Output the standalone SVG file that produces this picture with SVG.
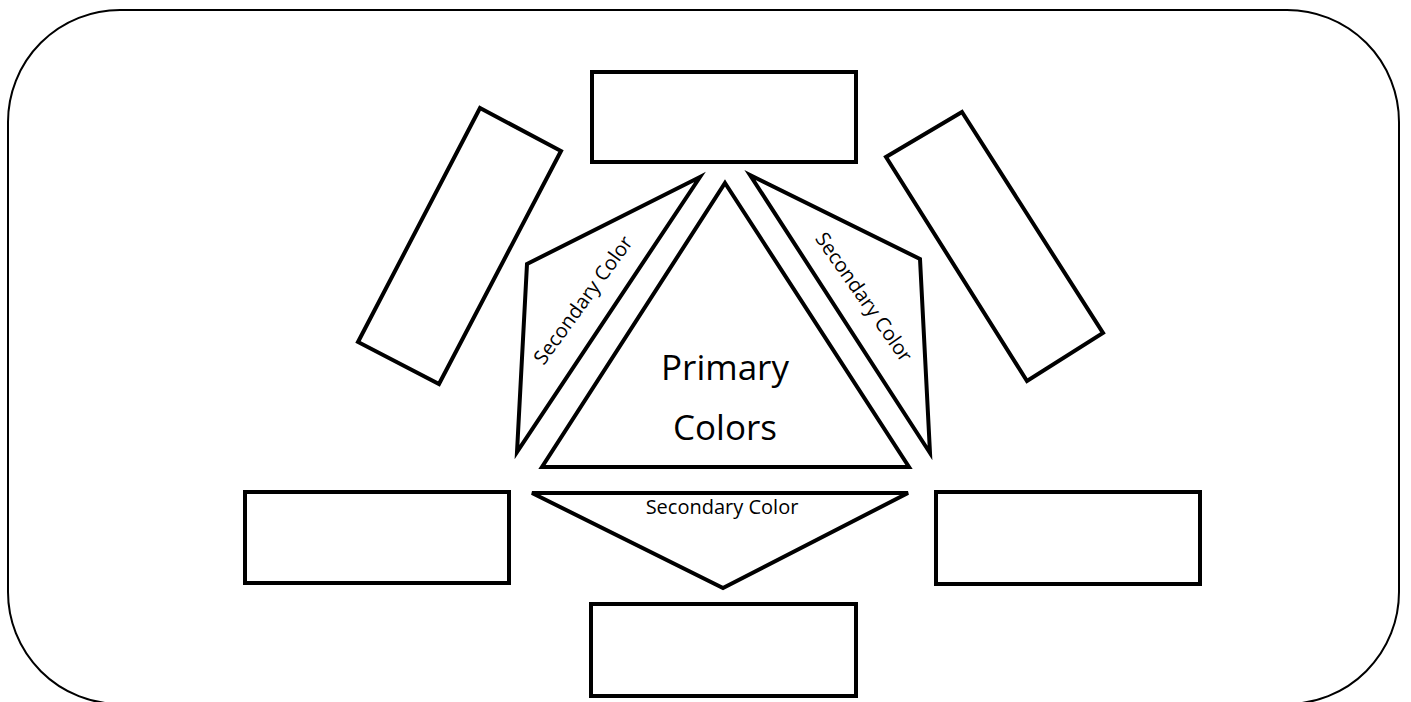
<svg xmlns="http://www.w3.org/2000/svg" width="1411" height="702" viewBox="0 0 1411 702">
<style>
.box{fill:#fff;stroke:#000;stroke-width:4;stroke-linejoin:miter}
.frame{fill:none;stroke:#000;stroke-width:2}
.sec{font-family:"Open Sans","Liberation Sans",sans-serif;font-size:20px;fill:#000;text-anchor:middle}
.pri{font-family:"Open Sans","Liberation Sans",sans-serif;font-size:35px;fill:#000;text-anchor:middle}
</style>
<rect width="1411" height="702" fill="#fff"/>
<rect id="frame" class="frame" x="8" y="10" width="1391" height="694" rx="112" ry="112"/>
<g id="box-top"><rect class="box" x="592" y="72" width="264" height="90"/></g>
<g id="box-upper-left"><polygon class="box" points="480,108 561,151 439,384 358,342"/></g>
<g id="box-upper-right"><polygon class="box" points="962,112 1103,333 1027,381 886,157"/></g>
<g id="box-lower-left"><rect class="box" x="245" y="492" width="264" height="91"/></g>
<g id="box-lower-right"><rect class="box" x="936" y="492" width="264" height="92"/></g>
<g id="box-bottom"><rect class="box" x="591" y="604" width="265" height="92"/></g>
<g id="primary">
<polygon class="box" points="725,183 909,467 542,467"/>
<text class="pri" x="725" y="380">Primary</text>
<text class="pri" x="725" y="440">Colors</text>
</g>
<g id="secondary-left">
<polygon class="box" points="700,177 527,264 517,452"/>
<text class="sec" transform="translate(583,300) rotate(-54)" x="0" y="7">Secondary Color</text>
</g>
<g id="secondary-right">
<polygon class="box" points="750,175 920,259 930,453"/>
<text class="sec" transform="translate(864,297) rotate(55)" x="0" y="7">Secondary Color</text>
</g>
<g id="secondary-bottom">
<polygon class="box" points="532,493 908,493 723,588"/>
<text class="sec" x="722" y="514">Secondary Color</text>
</g>
<g id="connectors"></g>
</svg>
